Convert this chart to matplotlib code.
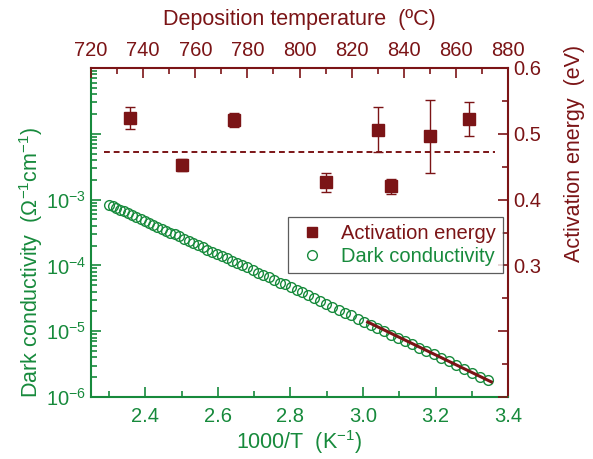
import matplotlib
matplotlib.use("Agg")
import matplotlib.pyplot as plt
import matplotlib.ticker as mticker
import numpy as np

plt.rcParams['font.family'] = ['Liberation Sans', 'DejaVu Sans']
plt.rcParams['mathtext.fontset'] = 'custom'
plt.rcParams['mathtext.rm'] = 'Liberation Sans'
plt.rcParams['mathtext.it'] = 'Liberation Sans'

green = '#178a3c'
red = '#7b1416'

# dark conductivity vs 1000/T
inv_T = [2.2989, 2.3095, 2.3202, 2.3310, 2.3419, 2.3529, 2.3641, 2.3753, 2.3866, 2.3981,
         2.4096, 2.4213, 2.4331, 2.4450, 2.4570, 2.4691, 2.4814, 2.4938, 2.5063, 2.5189,
         2.5316, 2.5445, 2.5575, 2.5707, 2.5840, 2.5974, 2.6110, 2.6247, 2.6385, 2.6525,
         2.6667, 2.6810, 2.6954, 2.7100, 2.7248, 2.7397, 2.7548, 2.7701, 2.7855, 2.8011,
         2.8169, 2.8329, 2.8490, 2.8653, 2.8818, 2.8986, 2.9155, 2.9326, 2.9499, 2.9674,
         2.9851, 3.0030, 3.0211, 3.0395, 3.0581, 3.0769, 3.0960, 3.1153, 3.1348, 3.1546,
         3.1746, 3.1949, 3.2154, 3.2362, 3.2573, 3.2787, 3.3003, 3.3223, 3.3445]
log_sigma = [-3.08, -3.10, -3.13, -3.16, -3.18, -3.21, -3.24, -3.27, -3.30, -3.33,
             -3.35, -3.38, -3.41, -3.44, -3.47, -3.50, -3.53, -3.56, -3.60, -3.63,
             -3.66, -3.69, -3.72, -3.76, -3.79, -3.82, -3.86, -3.89, -3.93, -3.96,
             -4.00, -4.03, -4.07, -4.11, -4.14, -4.18, -4.22, -4.26, -4.29, -4.33,
             -4.37, -4.41, -4.45, -4.50, -4.54, -4.58, -4.63, -4.67, -4.72, -4.76,
             -4.81, -4.86, -4.90, -4.95, -5.00, -5.05, -5.10, -5.15, -5.20, -5.25,
             -5.30, -5.35, -5.41, -5.46, -5.52, -5.57, -5.63, -5.69, -5.74]
sigma = 10.0 ** np.array(log_sigma)

# Arrhenius fit line
fit_x = [3.013, 3.354]
fit_sigma = [10 ** -4.86, 10 ** -5.77]

# activation energy vs deposition temperature
dep_T = [735, 755, 775, 810, 830, 835, 850, 865]
Ea = [0.524, 0.452, 0.521, 0.426, 0.506, 0.420, 0.496, 0.522]
Ea_err = [0.017, 0.009, 0.010, 0.015, 0.034, 0.011, 0.055, 0.026]
Ea_mean_span = [725, 875]
Ea_mean = 0.473

fig = plt.figure(figsize=(5.93, 4.59), dpi=100)
rect = [0.1535, 0.135, 0.7032, 0.7169]
ax = fig.add_axes(rect)
ax2 = fig.add_axes(rect, frameon=False)

ax.plot(inv_T, sigma, 'o', mfc='none', mec=green, mew=1.0, ms=7, zorder=2)
ax.plot(fit_x, fit_sigma, '-', color=red, lw=2.2, zorder=3)
ax.set_yscale('log')
ax.set_xlim(2.25, 3.4)
ax.set_ylim(1e-6, 1e-1)
ax.xaxis.set_major_locator(mticker.MultipleLocator(0.2))
ax.xaxis.set_minor_locator(mticker.MultipleLocator(0.1))
ax.xaxis.set_major_formatter(mticker.FormatStrFormatter('%.1f'))
ax.yaxis.set_major_locator(mticker.LogLocator(base=10, numticks=10))
ax.yaxis.set_minor_locator(mticker.LogLocator(base=10, subs=np.arange(2, 10), numticks=10))
ax.yaxis.set_major_formatter(mticker.FuncFormatter(
    lambda v, p: r'$10^{%d}$' % round(np.log10(v)) if v < 5e-3 else ''))
ax.yaxis.set_minor_formatter(mticker.NullFormatter())
ax.tick_params(which='both', direction='in', colors=green, labelsize=14.5, width=1.2)
ax.tick_params(which='major', length=7)
ax.tick_params(which='minor', length=4)
ax.tick_params(axis='x', pad=7)
ax.set_xlabel(r'1000/T  (K$^{-1}$)', color=green, fontsize=15.5)
ax.set_ylabel(r'Dark conductivity  ($\Omega^{-1}$cm$^{-1}$)', color=green, fontsize=15.5)
ax.xaxis.set_label_coords(0.5, -0.095)
ax.yaxis.set_label_coords(-0.11, 0.41)
ax.spines['left'].set_color(green)
ax.spines['bottom'].set_color(green)
ax.spines['top'].set_color(red)
ax.spines['right'].set_color(red)
for s in ax.spines.values():
    s.set_linewidth(1.5)

ax2.errorbar(dep_T, Ea, yerr=Ea_err, fmt='s', color=red, ms=8, ecolor=red,
             elinewidth=1.0, capsize=3.5, capthick=1.0, zorder=3)
ax2.plot(Ea_mean_span, [Ea_mean, Ea_mean], '--', color=red, lw=1.4, dashes=(3, 2))
ax2.set_xlim(720, 880)
ax2.set_ylim(0.1, 0.6)
ax2.xaxis.tick_top()
ax2.xaxis.set_label_position('top')
ax2.yaxis.tick_right()
ax2.yaxis.set_label_position('right')
ax2.xaxis.set_major_locator(mticker.MultipleLocator(20))
ax2.xaxis.set_minor_locator(mticker.MultipleLocator(10))
ax2.yaxis.set_major_locator(mticker.MultipleLocator(0.1))
ax2.yaxis.set_minor_locator(mticker.MultipleLocator(0.05))
ax2.yaxis.set_major_formatter(mticker.FuncFormatter(
    lambda v, p: '%.1f' % v if v > 0.25 else ''))
ax2.tick_params(which='both', direction='in', colors=red, labelsize=14.5, width=1.2)
ax2.tick_params(which='major', length=7)
ax2.tick_params(which='minor', length=4)
ax2.tick_params(axis='x', pad=6)
ax2.set_xlabel('Deposition temperature  (ºC)', color=red, fontsize=15.5)
ax2.set_ylabel('Activation energy  (eV)', color=red, fontsize=15.5)
ax2.xaxis.set_label_coords(0.5, 1.13)
ax2.yaxis.set_label_coords(1.135, 0.74)

h1 = plt.Line2D([], [], marker='s', ls='none', color=red, ms=7)
h2 = plt.Line2D([], [], marker='o', ls='none', mfc='none', mec=green, ms=7)
leg = ax2.legend([h1, h2], ['Activation energy', 'Dark conductivity'],
                 loc='upper right', bbox_to_anchor=(0.987, 0.548), fontsize=14.5,
                 frameon=True, fancybox=False, edgecolor='#333333',
                 handlelength=1.7, handletextpad=0.55, borderpad=0.35, labelspacing=0.2,
                 borderaxespad=0)
leg.get_frame().set_linewidth(0.9)
leg.get_texts()[0].set_color(red)
leg.get_texts()[1].set_color(green)

fig.savefig('out.png', dpi=100)
